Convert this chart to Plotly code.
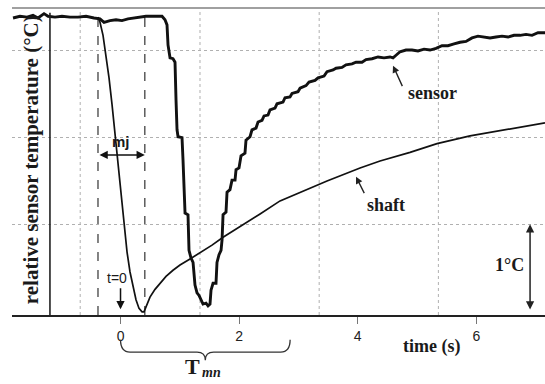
import plotly.graph_objects as go

# Sensor trace: relative temperature (°C) vs time (s)
sensor_t = [-1.813, -1.695, -1.577, -1.476, -1.391, -1.290, -1.222, -1.105, -0.987, -0.852,
            -0.717, -0.582, -0.447, -0.346, -0.278, -0.177, -0.076, 0.025, 0.126, 0.228,
            0.329, 0.430, 0.531, 0.632, 0.700, 0.750, 0.784, 0.801, 0.835, 0.885,
            0.919, 0.936, 0.953, 0.970, 1.037, 1.054, 1.088, 1.138, 1.155, 1.189,
            1.223, 1.256, 1.290, 1.324, 1.357, 1.391, 1.442, 1.476, 1.509, 1.526,
            1.560, 1.610, 1.627, 1.661, 1.695, 1.712, 1.729, 1.779, 1.796, 1.846,
            1.880, 1.931, 1.948, 1.998, 2.032, 2.099, 2.116, 2.184, 2.217, 2.285,
            2.319, 2.386, 2.420, 2.487, 2.521, 2.605, 2.639, 2.740, 2.774, 2.858,
            2.892, 2.993, 3.027, 3.128, 3.179, 3.280, 3.331, 3.432, 3.482, 3.584,
            3.634, 3.735, 3.802, 3.904, 3.971, 4.072, 4.140, 4.241, 4.342, 4.443,
            4.545, 4.595, 4.646, 4.713, 4.814, 4.915, 5.016, 5.118, 5.219, 5.320,
            5.421, 5.522, 5.624, 5.725, 5.826, 5.927, 6.028, 6.130, 6.231, 6.332,
            6.433, 6.535, 6.636, 6.737, 6.838, 6.939, 7.040, 7.158]
sensor_y = [3.38, 3.40, 3.39, 3.41, 3.38, 3.43, 3.40, 3.39, 3.40, 3.39,
            3.39, 3.40, 3.38, 3.37, 3.33, 3.35, 3.36, 3.35, 3.37, 3.38,
            3.39, 3.40, 3.40, 3.40, 3.40, 3.36, 3.30, 3.07, 2.92, 2.91,
            2.87, 2.43, 2.09, 2.01, 2.00, 1.74, 1.13, 1.11, 0.70, 0.61,
            0.56, 0.30, 0.21, 0.18, 0.13, 0.08, 0.09, 0.06, 0.08, 0.24,
            0.32, 0.32, 0.56, 0.65, 0.70, 0.82, 1.11, 1.14, 1.37, 1.40,
            1.51, 1.51, 1.63, 1.65, 1.79, 1.82, 1.97, 2.01, 2.09, 2.11,
            2.18, 2.20, 2.25, 2.26, 2.32, 2.34, 2.39, 2.41, 2.46, 2.47,
            2.51, 2.53, 2.57, 2.60, 2.64, 2.66, 2.69, 2.71, 2.76, 2.78,
            2.80, 2.81, 2.84, 2.85, 2.87, 2.87, 2.90, 2.91, 2.93, 2.92,
            2.93, 2.92, 2.95, 2.99, 3.01, 3.01, 3.00, 3.02, 3.01, 3.03,
            3.06, 3.06, 3.08, 3.10, 3.11, 3.15, 3.17, 3.16, 3.15, 3.16,
            3.17, 3.16, 3.18, 3.18, 3.19, 3.18, 3.21, 3.21]

# Shaft trace
shaft_t = [-0.379, -0.346, -0.295, -0.245, -0.194, -0.143, -0.093, -0.042, 0.008, 0.059,
           0.110, 0.160, 0.211, 0.261, 0.312, 0.363, 0.396, 0.447, 0.497, 0.582,
           0.666, 0.767, 0.885, 1.003, 1.172, 1.341, 1.543, 1.729, 2.015, 2.353,
           2.690, 3.027, 3.482, 4.039, 4.376, 4.882, 5.337, 5.894, 6.400, 7.158]
shaft_y = [3.39, 3.33, 3.18, 2.95, 2.69, 2.38, 2.03, 1.68, 1.34, 0.99,
           0.68, 0.45, 0.27, 0.13, 0.03, -0.01, -0.01, 0.07, 0.16, 0.25,
           0.32, 0.40, 0.47, 0.53, 0.60, 0.67, 0.76, 0.85, 0.97, 1.12,
           1.27, 1.37, 1.50, 1.65, 1.73, 1.83, 1.93, 2.02, 2.08, 2.17]

x_ticks = [0, 2, 4, 6]
x_grid = [-0.68, 1.34, 3.35, 5.36]
y_grid = [1, 2, 3]
mj_bounds = [-0.38, 0.41]      # injection window (dashed markers)
trace_start = -1.19            # solid start marker
tmn_span = [0.0, 2.86]         # T_mn brace extent
x_range = [-1.830, 7.158]
y_range = [-0.046, 3.495]

SERIF = "Liberation Serif"
SANS = "Liberation Sans"

fig = go.Figure()
fig.add_trace(go.Scatter(x=shaft_t, y=shaft_y, mode="lines",
                         line=dict(color="#111", width=1.7), hoverinfo="skip"))
fig.add_trace(go.Scatter(x=sensor_t, y=sensor_y, mode="lines",
                         line=dict(color="#111", width=2.9), hoverinfo="skip"))

# vertical dotted grid
for g in x_grid:
    fig.add_shape(type="line", xref="x", yref="paper", x0=g, x1=g, y0=0, y1=1,
                  line=dict(color="#b0b0b0", width=1, dash="dot"), layer="below")
# dashed injection markers
for g in mj_bounds:
    fig.add_shape(type="line", xref="x", yref="y", x0=g, x1=g, y0=y_range[0], y1=3.39,
                  line=dict(color="#333", width=1.2, dash="dash"), layer="below")
# solid start marker
fig.add_shape(type="line", xref="x", yref="y", x0=trace_start, x1=trace_start,
              y0=y_range[0], y1=3.44, line=dict(color="#222", width=1.6))
# top frame line
fig.add_shape(type="line", xref="paper", yref="paper", x0=0, x1=1, y0=1, y1=1,
              line=dict(color="#a0a0a0", width=2))

# T_mn brace below the axis
a, b = tmn_span
mid = (a + b) / 2
yt, yl, yd = -0.081, -0.121, -0.147
brace = (f"M {a},{yt} Q {a},{yl} {a+0.16},{yl} L {mid-0.14},{yl} "
         f"Q {mid},{yl} {mid},{yd} Q {mid},{yl} {mid+0.14},{yl} "
         f"L {b-0.16},{yl} Q {b},{yl} {b},{yt}")
fig.add_shape(type="path", xref="x", yref="paper", path=brace,
              line=dict(color="#333", width=1.3))


def label(x, y, text, size, family=SERIF, xref="x", yref="y", **kw):
    return dict(x=x, y=y, xref=xref, yref=yref, text=text, showarrow=False,
                xanchor="center", yanchor="middle",
                font=dict(family=family, size=size, color="#1a1a1a"), **kw)


ann = []
# mj double arrow
ann.append(dict(x=mj_bounds[1], y=1.80, ax=mj_bounds[0], ay=1.80, axref="x", ayref="y",
                xref="x", yref="y", text="", showarrow=True, arrowhead=2, arrowside="end+start",
                arrowsize=1.1, arrowwidth=1.5, arrowcolor="#111", standoff=0, startstandoff=0))
ann.append(label(0.01, 1.95, "<b>mj</b>", 15, family=SANS))
# t = 0 arrow
ann.append(dict(x=0, y=0.02, ax=0, ay=0.28, axref="x", ayref="y", xref="x", yref="y",
                text="", showarrow=True, arrowhead=2, arrowsize=1.1, arrowwidth=1.5,
                arrowcolor="#111"))
ann.append(label(-0.06, 0.38, "t=0", 14, family=SANS))
# sensor label
ann.append(dict(x=4.595, y=2.83, ax=10, ay=22, xref="x", yref="y", text="",
                showarrow=True, arrowhead=2, arrowsize=1, arrowwidth=1.4, arrowcolor="#222"))
ann.append(label(5.255, 2.51, "<b>sensor</b>", 18))
# shaft label
ann.append(dict(x=3.971, y=1.55, ax=9, ay=18, xref="x", yref="y", text="",
                showarrow=True, arrowhead=2, arrowsize=1, arrowwidth=1.4, arrowcolor="#222"))
ann.append(label(4.477, 1.22, "<b>shaft</b>", 18))
# 1 °C scale bar
ann.append(dict(x=6.906, y=1.0, ax=6.906, ay=0.0, axref="x", ayref="y", xref="x", yref="y",
                text="", showarrow=True, arrowhead=2, arrowside="end+start", arrowsize=1.1,
                arrowwidth=1.5, arrowcolor="#222", standoff=0, startstandoff=0))
ann.append(label(6.553, 0.53, "<b>1°C</b>", 18))
# axis titles
ann.append(label(5.25, -0.104, "<b>time (s)</b>", 18, yref="paper"))
ann.append(label(0.036, 0.505, "<b>relative sensor temperature (°C)</b>", 21,
                 xref="paper", yref="paper", textangle=-90))
# T_mn
ann.append(label(1.22, -0.169, "<b>T</b>", 22, yref="paper"))
ann.append(label(1.53, -0.186, "<b><i>mn</i></b>", 14, yref="paper"))

fig.update_layout(
    width=545, height=384,
    margin=dict(l=12, r=0, t=8, b=69),
    paper_bgcolor="white", plot_bgcolor="white",
    showlegend=False,
    annotations=ann,
    xaxis=dict(range=x_range, tickvals=x_ticks, ticktext=[str(v) for v in x_ticks],
               ticks="outside", ticklen=7, tickcolor="#777", tickwidth=1,
               tickfont=dict(family=SANS, size=14, color="#222"),
               showgrid=False, zeroline=False, showline=True, linecolor="#222", linewidth=2.2),
    yaxis=dict(range=y_range, tickvals=y_grid, showticklabels=False, ticks="",
               showgrid=True, gridcolor="#b0b0b0", griddash="dot", gridwidth=1,
               zeroline=False, showline=False),
)

fig.write_html("out.html")
